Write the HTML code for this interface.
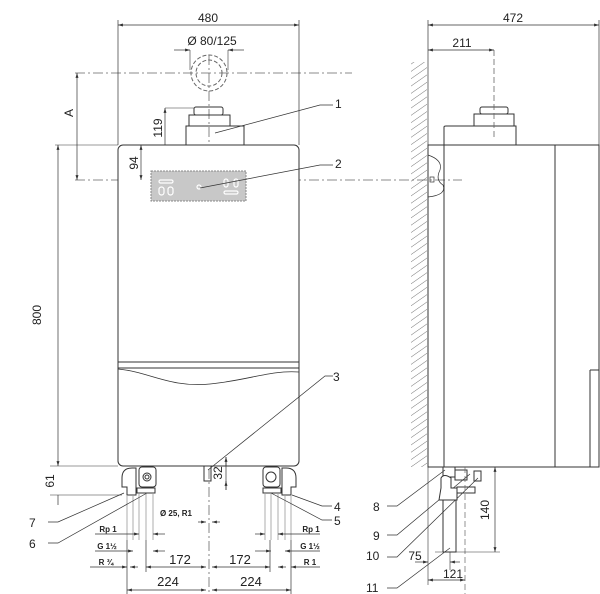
<!DOCTYPE html>
<html><head><meta charset="utf-8"><style>
html,body{margin:0;padding:0;background:#fff}
svg{display:block}
text{font-family:"Liberation Sans",sans-serif;fill:#222}
</style></head><body>
<svg width="600" height="594" viewBox="0 0 600 594" xmlns="http://www.w3.org/2000/svg">
<defs>
<marker id="a" viewBox="0 0 10 10" refX="10" refY="5" markerWidth="7" markerHeight="7" orient="auto-start-reverse"><path d="M0,2 L10,5 L0,8z" fill="#333"/></marker>
<pattern id="h" width="6" height="6" patternUnits="userSpaceOnUse" patternTransform="rotate(-35)"><line x1="0" y1="0" x2="6" y2="0" stroke="#555" stroke-width="0.8"/></pattern>
</defs>
<g stroke="#333" fill="none" stroke-width="1">
<!-- center lines -->
<line x1="75" y1="73" x2="352" y2="73" stroke-dasharray="10,3,2,3" stroke="#666" stroke-width="0.8"/>
<line x1="75" y1="180" x2="462" y2="180" stroke-dasharray="10,3,2,3" stroke="#666" stroke-width="0.8"/>
<line x1="209" y1="55" x2="209" y2="594" stroke-dasharray="10,3,2,3" stroke="#666" stroke-width="0.8"/>
<circle cx="209" cy="73" r="18" stroke-dasharray="4,2" stroke="#666"/>
<circle cx="209" cy="73" r="13" stroke-dasharray="4,2" stroke="#666"/>
<!-- front body -->
<rect x="118" y="145" width="181" height="321" rx="5" fill="#fff"/>
<line x1="118" y1="362" x2="299" y2="362"/>
<line x1="118" y1="368" x2="299" y2="368"/>
<path d="M118,369 C150,372 170,388 210,384 C250,380 270,370 299,372" stroke-width="0.8"/>
<!-- flue -->
<path d="M186,145 V126 H244 V145"/>
<rect x="189" y="115" width="41" height="11"/>
<rect x="194" y="107" width="29" height="8" rx="2"/>
<rect x="151" y="171" width="95" height="30" fill="#c8c8c8" stroke="#888" stroke-dasharray="2,1"/>
<g stroke="#fff" stroke-width="1.2"><rect x="159" y="180" width="14" height="3" rx="1.5"/><rect x="159" y="187" width="5" height="8" rx="2.5"/><rect x="168" y="187" width="5" height="8" rx="2.5"/><circle cx="199" cy="187" r="2"/><rect x="224" y="179" width="4" height="8" rx="2"/><rect x="234" y="179" width="4" height="8" rx="2"/><rect x="224" y="191" width="14" height="3" rx="1.5"/></g>
<!-- dimensions top -->
<line x1="118" y1="20" x2="118" y2="145" stroke-width="0.7"/><line x1="299" y1="20" x2="299" y2="145" stroke-width="0.7"/>
<line x1="118" y1="25" x2="299" y2="25" marker-start="url(#a)" marker-end="url(#a)" stroke-width="0.7"/>
<line x1="174" y1="50" x2="190" y2="50" marker-end="url(#a)" stroke-width="0.7"/>
<line x1="244" y1="50" x2="228" y2="50" marker-end="url(#a)" stroke-width="0.7"/>
<line x1="190" y1="50" x2="190" y2="70" stroke-width="0.6"/><line x1="228" y1="50" x2="228" y2="70" stroke-width="0.6"/>
<line x1="77" y1="73" x2="77" y2="180" marker-start="url(#a)" marker-end="url(#a)" stroke-width="0.7"/>
<line x1="165" y1="108" x2="194" y2="108" stroke-width="0.6"/>
<line x1="165" y1="108" x2="165" y2="145" marker-start="url(#a)" stroke-width="0.7"/>
<line x1="141" y1="145" x2="141" y2="180" marker-start="url(#a)" marker-end="url(#a)" stroke-width="0.7"/>
<line x1="55" y1="145" x2="118" y2="145" stroke-width="0.6"/>
<line x1="58" y1="145" x2="58" y2="466" marker-start="url(#a)" marker-end="url(#a)" stroke-width="0.7"/>
<line x1="50" y1="466" x2="118" y2="466" stroke-width="0.6"/>
<line x1="50" y1="495" x2="122" y2="495" stroke-width="0.6"/>
<line x1="58" y1="495" x2="58" y2="505" stroke-width="0.7"/>
<!-- fittings left -->
<path d="M122,478 q0,-10 10,-10 h4 v27 h-9 v-8 h-5z"/>
<rect x="139" y="467" width="17" height="20" rx="3"/>
<circle cx="147" cy="477" r="4"/><circle cx="147" cy="477" r="2"/>
<rect x="137" y="488" width="18" height="5"/>
<path d="M127,495 V540 M133,495 V540 M139,493 V540 M146,493 V540 M153,493 V540" stroke="#999" stroke-width="0.8"/>
<!-- fittings right -->
<path d="M296,478 q0,-10 -10,-10 h-4 v27 h9 v-8 h5z"/>
<rect x="263" y="467" width="17" height="20" rx="3"/>
<circle cx="271" cy="477" r="5"/>
<rect x="263" y="488" width="18" height="5"/>
<path d="M265,493 V540 M271,493 V540 M278,493 V540 M285,495 V540 M291,495 V540" stroke="#999" stroke-width="0.8"/>
<rect x="204" y="466" width="7" height="15"/>
<line x1="226" y1="457" x2="226" y2="490" stroke-width="0.7"/>
<line x1="226" y1="466" x2="226" y2="457" marker-end="url(#a)" stroke-width="0.7"/>
<line x1="226" y1="481" x2="226" y2="490" marker-start="url(#a)" stroke-width="0.7"/>
<line x1="198" y1="522" x2="206" y2="522" marker-end="url(#a)" stroke-width="0.7"/>
<line x1="220" y1="522" x2="212" y2="522" marker-end="url(#a)" stroke-width="0.7"/>
<!-- bottom dims -->
<g stroke-width="0.7">
<line x1="95" y1="534" x2="139" y2="534" marker-end="url(#a)"/><line x1="165" y1="534" x2="153" y2="534" marker-end="url(#a)"/>
<line x1="95" y1="551" x2="133" y2="551" marker-end="url(#a)"/><line x1="165" y1="551" x2="153" y2="551" marker-end="url(#a)"/>
<line x1="90" y1="567" x2="127" y2="567" marker-end="url(#a)"/><line x1="138" y1="567" x2="130" y2="567" marker-end="url(#a)"/>
<line x1="146" y1="567" x2="206" y2="567" marker-start="url(#a)" marker-end="url(#a)"/>
<line x1="212" y1="567" x2="270" y2="567" marker-start="url(#a)" marker-end="url(#a)"/>
<line x1="286" y1="567" x2="278" y2="567" marker-end="url(#a)"/><line x1="320" y1="567" x2="291" y2="567" marker-end="url(#a)"/>
<line x1="255" y1="534" x2="265" y2="534" marker-end="url(#a)"/><line x1="320" y1="534" x2="278" y2="534" marker-end="url(#a)"/>
<line x1="255" y1="551" x2="271" y2="551" marker-end="url(#a)"/><line x1="320" y1="551" x2="285" y2="551" marker-end="url(#a)"/>
<line x1="127" y1="590" x2="206" y2="590" marker-start="url(#a)" marker-end="url(#a)"/>
<line x1="212" y1="590" x2="291" y2="590" marker-start="url(#a)" marker-end="url(#a)"/>
<line x1="127" y1="540" x2="127" y2="594"/><line x1="291" y1="540" x2="291" y2="594"/>
<line x1="146" y1="540" x2="146" y2="572"/><line x1="270" y1="540" x2="270" y2="572"/>
</g>
<!-- leaders -->
<g stroke-width="0.7">
<polyline points="215,133 320,105 333,105"/>
<polyline points="200,188 320,165 333,165"/>
<polyline points="208,470 325,376 333,376"/>
<polyline points="292,495 322,506 332,506"/>
<polyline points="271,493 322,520 332,520"/>
<polyline points="147,493 58,543 48,543"/>
<polyline points="124,493 58,522 48,522"/>
<polyline points="445,470 397,506 387,506"/>
<polyline points="470,474 397,535 387,535"/>
<polyline points="478,478 397,557 387,557"/>
<polyline points="450,548 397,588 387,588"/>
</g>
<!-- side view -->
<rect x="411" y="62" width="16" height="405" fill="url(#h)" stroke="none"/>
<line x1="428" y1="20" x2="428" y2="467" stroke-width="0.7"/>
<rect x="428" y="145" width="171" height="322"/>
<line x1="444" y1="145" x2="444" y2="467"/>
<line x1="555" y1="145" x2="555" y2="467"/>
<line x1="590" y1="370" x2="590" y2="467"/><line x1="590" y1="370" x2="599" y2="370"/>
<path d="M428,155 q15,5 12,15 q-5,10 3,15 q4,10 -15,12" stroke-width="0.7"/>
<rect x="430" y="177" width="4" height="5" stroke-width="0.7"/>
<path d="M444,145 V127 q0,-1 2,-1 H516 V145"/>
<rect x="474" y="114" width="40" height="12"/>
<rect x="480" y="107" width="28" height="7" rx="2"/>
<line x1="494" y1="50" x2="494" y2="140" stroke-dasharray="6,3" stroke="#666" stroke-width="0.8"/>
<line x1="599" y1="20" x2="599" y2="145" stroke-width="0.7"/>
<line x1="428" y1="25" x2="599" y2="25" marker-start="url(#a)" marker-end="url(#a)" stroke-width="0.7"/>
<line x1="428" y1="50" x2="494" y2="50" marker-start="url(#a)" marker-end="url(#a)" stroke-width="0.7"/>
<!-- side fittings -->
<rect x="443" y="467" width="12" height="10"/>
<path d="M441,488 V478 q3,-5 10,0 v10 h6 v12 h-18z" fill="#fff"/>
<rect x="455" y="470" width="12" height="10"/>
<rect x="474" y="471" width="7" height="10"/>
<rect x="457" y="487" width="18" height="6"/>
<rect x="443" y="500" width="13" height="52"/>
<line x1="465" y1="467" x2="465" y2="594" stroke-dasharray="6,3" stroke="#666" stroke-width="0.7"/>
<line x1="435" y1="552" x2="500" y2="552" stroke-width="0.6"/>
<line x1="495" y1="467" x2="495" y2="552" marker-start="url(#a)" marker-end="url(#a)" stroke-width="0.7"/>
<line x1="428" y1="467" x2="428" y2="585" stroke-width="0.6"/>
<line x1="450" y1="552" x2="450" y2="570" stroke-width="0.6"/>
<line x1="415" y1="562" x2="428" y2="562" marker-end="url(#a)" stroke-width="0.7"/>
<line x1="460" y1="562" x2="450" y2="562" marker-end="url(#a)" stroke-width="0.7"/>
<line x1="428" y1="580" x2="465" y2="580" marker-start="url(#a)" marker-end="url(#a)" stroke-width="0.7"/>
</g>
<!-- text -->
<g font-size="12" text-anchor="middle">
<text x="208" y="22">480</text>
<text x="212" y="45">Ø 80/125</text>
<text x="513" y="22">472</text>
<text x="462" y="47">211</text>
<text transform="translate(73,113) rotate(-90)">A</text>
<text transform="translate(162,128) rotate(-90)">119</text>
<text transform="translate(138,163) rotate(-90)">94</text>
<text transform="translate(41,315) rotate(-90)">800</text>
<text transform="translate(54,481) rotate(-90)">61</text>
<text transform="translate(222,473) rotate(-90)">32</text>
<text transform="translate(489,510) rotate(-90)">140</text>
<text x="180" y="564" font-size="13">172</text>
<text x="240" y="564" font-size="13">172</text>
<text x="168" y="586" font-size="13">224</text>
<text x="251" y="586" font-size="13">224</text>
<text x="415" y="560">75</text>
<text x="453" y="578">121</text>
</g>
<g font-size="8" font-weight="bold" text-anchor="middle">
<text x="176" y="516">Ø 25, R1</text>
<text x="108" y="532">Rp 1</text>
<text x="107" y="549">G 1½</text>
<text x="106" y="565">R ¾</text>
<text x="311" y="532">Rp 1</text>
<text x="310" y="549">G 1½</text>
<text x="310" y="565">R 1</text>
</g>
<g font-size="12">
<text x="335" y="108">1</text><text x="335" y="168">2</text><text x="333" y="381">3</text>
<text x="334" y="511">4</text><text x="334" y="525">5</text>
<text x="29" y="548">6</text><text x="29" y="527">7</text>
<text x="373" y="511">8</text><text x="373" y="540">9</text>
<text x="366" y="560">10</text><text x="366" y="592">11</text>
</g>
</svg>
</body></html>
